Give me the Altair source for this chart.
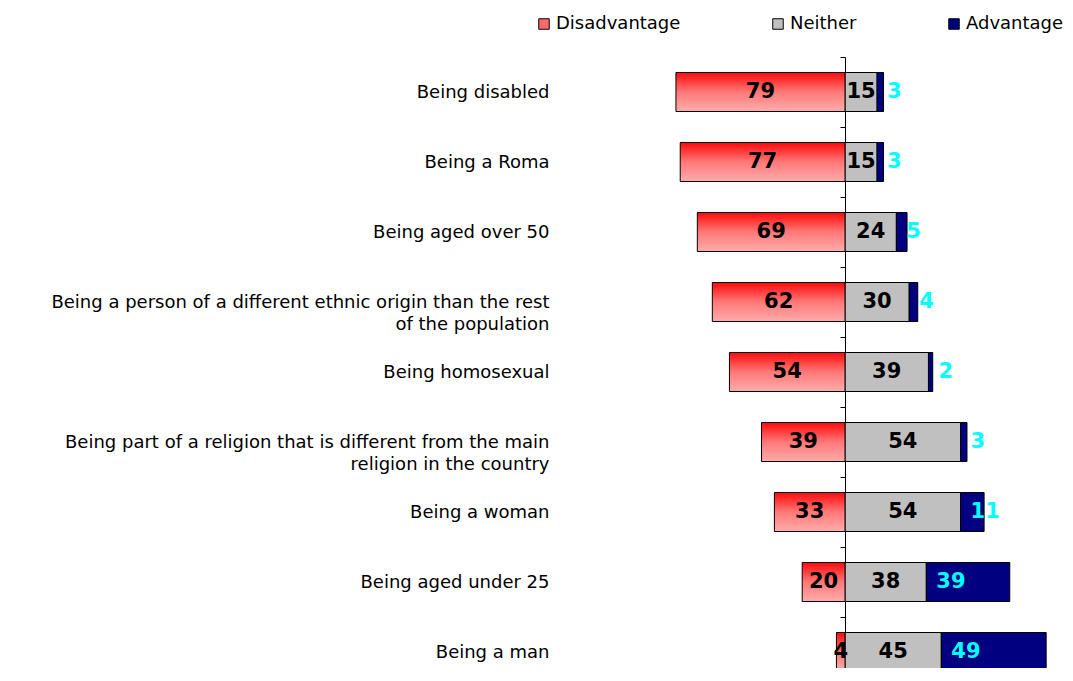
import altair as alt
import pandas as pd

categories = [
    "Being disabled",
    "Being a Roma",
    "Being aged over 50",
    "Being a person of a different ethnic origin than the rest|of the population",
    "Being homosexual",
    "Being part of a religion that is different from the main|religion in the country",
    "Being a woman",
    "Being aged under 25",
    "Being a man",
]
disadvantage = [79, 77, 69, 62, 54, 39, 33, 20, 4]
neither = [15, 15, 24, 30, 39, 54, 54, 38, 45]
advantage = [3, 3, 5, 4, 2, 3, 11, 39, 49]
series = ["Disadvantage", "Neither", "Advantage"]
colors = ["#FF6A6A", "#C0C0C0", "#000080"]

rows = []
for c, d, n, a in zip(categories, disadvantage, neither, advantage):
    rows.append(dict(category=c, series="Disadvantage", start=-d, end=0, value=d, mid=-d / 2))
    rows.append(dict(category=c, series="Neither", start=0, end=n, value=n, mid=n / 2))
    rows.append(dict(category=c, series="Advantage", start=n, end=n + a, value=a, mid=n))
df = pd.DataFrame(rows)

FONT = "DejaVu Sans"
PLOT_H = 611
STEP = 70
xscale = alt.Scale(domain=[-100, 100], nice=False, zero=False)
# band step of 70 px: the last band runs past the visible area, as in the reference
yscale = alt.Scale(range=[0, STEP * len(categories)], paddingInner=0, paddingOuter=0)

axis_main = alt.Axis(
    title=None, orient="left", offset=-214, grid=False,
    labelFont=FONT, labelFontSize=18, labelColor="black", labelLimit=1000,
    labelLineHeight=22,
    domainColor="black", domainWidth=1,
    tickColor="black", tickSize=5, tickWidth=1, tickBand="extent",
    labelExpr="split(datum.label, '|')",
    labelAlign="right", labelPadding=291,
)
yenc = alt.Y("category:N", sort=categories, scale=yscale, axis=axis_main)
xenc = alt.X("start:Q", scale=xscale, axis=None)

gradient = alt.Gradient(
    gradient="linear",
    stops=[alt.GradientStop(color="#FF0A0A", offset=0),
           alt.GradientStop(color="#FF7878", offset=0.5),
           alt.GradientStop(color="#FFACAC", offset=1)],
    x1=0, x2=0, y1=0, y2=1,
)

base = alt.Chart(df)

bars = base.transform_filter("datum.series != 'Disadvantage'").mark_bar(
    stroke="black", strokeWidth=1, size=39
).encode(
    x=xenc, x2="end:Q", y=yenc,
    color=alt.Color("series:N", scale=alt.Scale(domain=series, range=colors),
                    legend=alt.Legend(
                        title=None, orient="none", legendX=-96, legendY=-42,
                        direction="horizontal", symbolType="square", symbolSize=110,
                        symbolStrokeColor="black", symbolStrokeWidth=1,
                        labelFont=FONT, labelFontSize=18, labelColor="black",
                        labelOffset=3, columnPadding=88)),
)

red = base.transform_filter("datum.series == 'Disadvantage'").mark_bar(
    fill=gradient, stroke="black", strokeWidth=1, size=39
).encode(x=xenc, x2="end:Q", y=yenc)

txt_kw = dict(font=FONT, fontSize=21, fontWeight="bold", baseline="middle")
xmid = alt.X("mid:Q", scale=xscale, axis=None)
dis_text = base.transform_filter("datum.series == 'Disadvantage'").mark_text(
    align="center", color="black", **txt_kw
).encode(x=xmid, y=yenc, text="value:Q")
nei_text = base.transform_filter("datum.series == 'Neither'").mark_text(
    align="center", color="black", **txt_kw
).encode(x=xmid, y=yenc, text="value:Q")
adv_text = base.transform_filter("datum.series == 'Advantage'").mark_text(
    align="left", dx=10, color="#00FFFF", **txt_kw
).encode(x=xmid, y=yenc, text="value:Q")

chart = alt.layer(bars, red, dis_text, nei_text, adv_text).properties(
    width=428, height=PLOT_H, autosize="none", background="white",
    padding={"left": 623, "top": 49, "right": 6, "bottom": 0},
).configure_view(stroke="transparent")

chart.save("out.html", embed_options={"renderer": "svg", "actions": False})
